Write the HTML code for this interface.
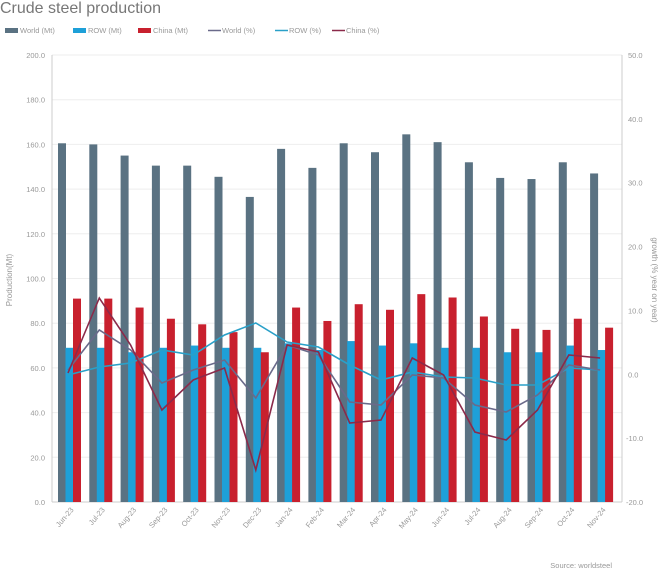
<!DOCTYPE html>
<html><head><meta charset="utf-8"><style>
body{margin:0;background:#fff;font-family:"Liberation Sans",sans-serif;}
</style></head><body>
<svg width="660" height="572" viewBox="0 0 660 572" xmlns="http://www.w3.org/2000/svg" font-family="Liberation Sans, sans-serif">
<text x="0" y="13" font-size="16" fill="#777">Crude steel production</text>
<g font-size="7.5" fill="#999">
<rect x="5" y="28" width="13" height="5" fill="#5a7282"/><text x="20" y="33">World (Mt)</text>
<rect x="73" y="28" width="13" height="5" fill="#1ea0d8"/><text x="88" y="33">ROW (Mt)</text>
<rect x="138" y="28" width="13" height="5" fill="#c8202e"/><text x="153" y="33">China (Mt)</text>
<line x1="208" y1="30.5" x2="221" y2="30.5" stroke="#6a6a8a" stroke-width="1.5"/><text x="222" y="33">World (%)</text>
<line x1="275" y1="30.5" x2="288" y2="30.5" stroke="#2aa0c8" stroke-width="1.5"/><text x="289" y="33">ROW (%)</text>
<line x1="332" y1="30.5" x2="345" y2="30.5" stroke="#8b2a4a" stroke-width="1.5"/><text x="346" y="33">China (%)</text>
</g>
<g stroke="#eee" stroke-width="1">
<line x1="52" y1="55" x2="622" y2="55"/><line x1="52" y1="99.7" x2="622" y2="99.7"/><line x1="52" y1="144.4" x2="622" y2="144.4"/><line x1="52" y1="189.1" x2="622" y2="189.1"/><line x1="52" y1="233.8" x2="622" y2="233.8"/><line x1="52" y1="278.5" x2="622" y2="278.5"/><line x1="52" y1="323.2" x2="622" y2="323.2"/><line x1="52" y1="367.9" x2="622" y2="367.9"/><line x1="52" y1="412.6" x2="622" y2="412.6"/><line x1="52" y1="457.3" x2="622" y2="457.3"/>
</g>
<line x1="52" y1="55" x2="52" y2="502" stroke="#ccc"/>
<line x1="622" y1="55" x2="622" y2="502" stroke="#ccc"/>
<line x1="52" y1="502" x2="622" y2="502" stroke="#ccc"/>
<g font-size="7.5" fill="#999" text-anchor="end">
<text x="45" y="58">200.0</text><text x="45" y="102.7">180.0</text><text x="45" y="147.4">160.0</text><text x="45" y="192.1">140.0</text><text x="45" y="236.8">120.0</text><text x="45" y="281.5">100.0</text><text x="45" y="326.2">80.0</text><text x="45" y="370.9">60.0</text><text x="45" y="415.6">40.0</text><text x="45" y="460.3">20.0</text><text x="45" y="505">0.0</text>
</g>
<g font-size="7.5" fill="#999">
<text x="628" y="58">50.0</text><text x="628" y="121.9">40.0</text><text x="628" y="185.7">30.0</text><text x="628" y="249.6">20.0</text><text x="628" y="313.4">10.0</text><text x="628" y="377.3">0.0</text><text x="626" y="441.1">-10.0</text><text x="626" y="505">-20.0</text>
</g>
<text transform="translate(12,280) rotate(-90)" font-size="8" fill="#999" text-anchor="middle">Production(Mt)</text>
<text transform="translate(652,280) rotate(90)" font-size="8" fill="#999" text-anchor="middle">growth (% year on year)</text>
<g id="bars"></g>
<g id="lbl" font-size="7.5" fill="#999" text-anchor="end"></g>
<g id="lines" fill="none" stroke-width="1.6"></g>
<text x="612" y="568" font-size="7.5" fill="#999" text-anchor="end">Source: worldsteel</text>
</svg>
<script>
var W=[160.5,160,155,150.5,150.5,145.5,136.5,158,149.5,160.5,156.5,164.5,161,152,145,144.5,152,147];
var R=[69,69,67,69,70,69,69,71,68,72,70,71,69,69,67,67,70,68];
var C=[91,91,87,82,79.5,76,67,87,81,88.5,86,93,91.5,83,77.5,77,82,78];
var M=["Jun-23","Jul-23","Aug-23","Sep-23","Oct-23","Nov-23","Dec-23","Jan-24","Feb-24","Mar-24","Apr-24","May-24","Jun-24","Jul-24","Aug-24","Sep-24","Oct-24","Nov-24"];
var Ch=[373,298,345,410,380,368,470,345,352,423,420,358,375,432,440,410,355,358];
var Wo=[370,330,350,383,370,360,398,345,355,402,405,375,378,405,412,395,365,370];
var Ro=[375,367,363,350,355,335,323,342,347,365,380,372,377,378,385,385,368,370];
var ns="http://www.w3.org/2000/svg",b=document.getElementById("bars"),l=document.getElementById("lbl"),ln=document.getElementById("lines");
function r(x,v,c){var e=document.createElementNS(ns,"rect");var h=v*2.235;e.setAttribute("x",x);e.setAttribute("y",502-h);e.setAttribute("width",8);e.setAttribute("height",h);e.setAttribute("fill",c);b.appendChild(e);}
var pc=[],pw=[],pr=[];
for(var i=0;i<18;i++){var x=58+i*31.3;r(x,W[i],"#5a7282");r(x+7.5,R[i],"#1ea0d8");r(x+15,C[i],"#c8202e");
var t=document.createElementNS(ns,"text");t.setAttribute("transform","translate("+(x+16)+",510) rotate(-50)");t.textContent=M[i];l.appendChild(t);
var px=x+10;pc.push(px+","+Ch[i]);pw.push(px+","+Wo[i]);pr.push(px+","+Ro[i]);}
function pl(p,c){var e=document.createElementNS(ns,"polyline");e.setAttribute("points",p.join(" "));e.setAttribute("stroke",c);ln.appendChild(e);}
pl(pr,"#2aa0c8");pl(pw,"#6a6a8a");pl(pc,"#8b2a4a");
</script>
</body></html>
